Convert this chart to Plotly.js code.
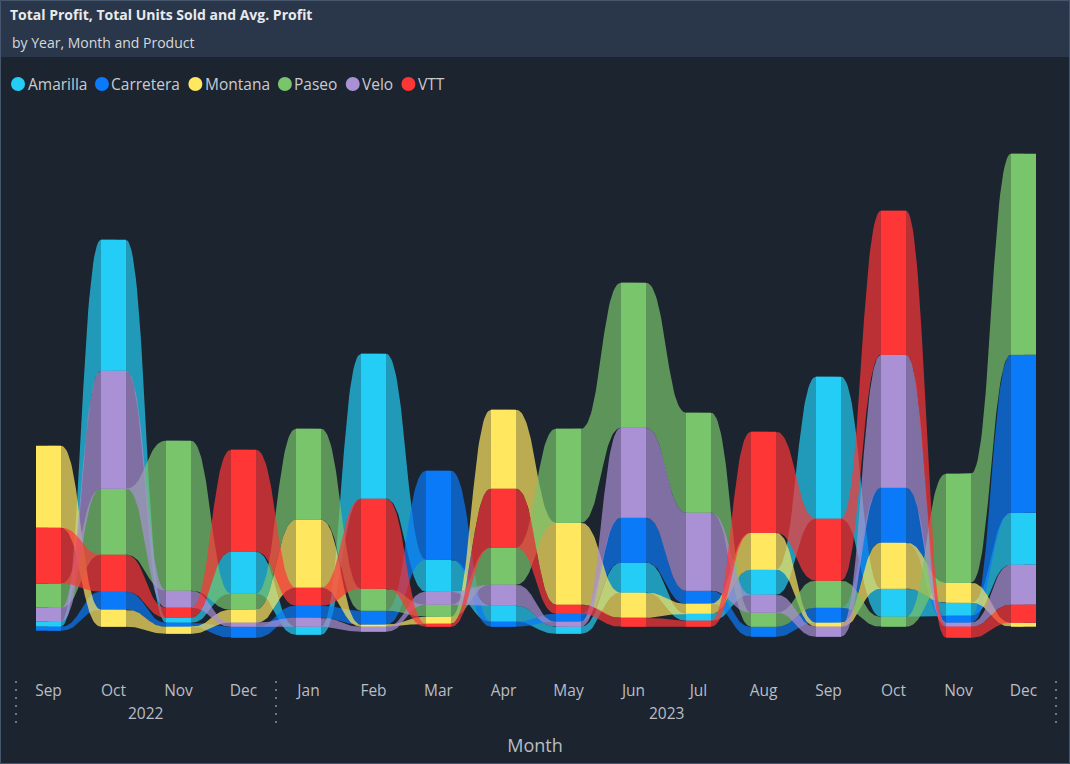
<!DOCTYPE html>
<html>
<head>
<meta charset="utf-8">
<script src="https://cdn.plot.ly/plotly-3.0.1.min.js"></script>
<style>
html,body{margin:0;padding:0;background:#1C2430;overflow:hidden;}
#chart{width:1070px;height:764px;}
</style>
</head>
<body>
<div id="chart"></div>
<script>
// ---------- DATA (Total Profit, relative units) ----------
const months = ['Sep','Oct','Nov','Dec','Jan','Feb','Mar','Apr','May','Jun','Jul','Aug','Sep','Oct','Nov','Dec'];
const monthYears = ['2022','2022','2022','2022','2023','2023','2023','2023','2023','2023','2023','2023','2023','2023','2023','2023'];
const products = ['Amarilla','Carretera','Montana','Paseo','Velo','VTT'];
const productColors = ['#24CDF5','#0A7AF8','#FFE760','#78C56C','#AA90D4','#FF3636'];

const amarilla  = [5, 131, 5, 42, -8, 145, 32, 16, -7, 30, 7, 25, 142, 28, 13, 52];
const carretera = [-4, 18, 4, -11, 12, 14, 89, 5, 8, 45, 13, -10, 15, 55, 7, 158];
const montana   = [82, 17, -7, 13, 68, 2, 7, 79, 82, 25, 10, 37, 4, 46, 20, 4];
const paseo     = [24, 66, 150, 16, 91, 22, 12, 37, 94, 145, 100, 14, 27, 10, 109, 201];
const velo      = [14, 118, 17, 4, 9, -5, 13, 21, 5, 90, 78, 18, -10, 133, 4, 40];
const vtt       = [56, 37, 10, 102, 18, 90, 3, 59, 9, 9, 6, 101, 62, 144, -11, 18];

const series = [amarilla, carretera, montana, paseo, velo, vtt];

// ---------- layout constants ----------
const FONT = '"Segoe UI", "Open Sans", sans-serif';
const W = 1070, H = 764;
const plotTop = 100, plotBottom = 676;
const zeroPx = 626.7;
const colStep = 65, firstCenterPx = 48.5;
const barW = 25 / colStep;          // bar width in category units
const hw = barW / 2;
const xr0 = -firstCenterPx / colStep;
const xRange = [xr0, xr0 + W / colStep];
const yRange = [-(plotBottom - zeroPx), zeroPx - plotTop];
const paperY = py => (plotBottom - py) / (plotBottom - plotTop);

function rgba(hex, a) {
  const n = parseInt(hex.slice(1), 16);
  return 'rgba(' + ((n >> 16) & 255) + ',' + ((n >> 8) & 255) + ',' + (n & 255) + ',' + a + ')';
}

// ---------- ribbon stacking: per column, sorted ascending, largest on top ----------
const nCol = months.length, nSer = products.length;
const lo = products.map(() => new Array(nCol));
const hi = products.map(() => new Array(nCol));
for (let j = 0; j < nCol; j++) {
  const items = products.map((p, k) => ({k: k, v: series[k][j]}));
  items.sort((a, b) => a.v - b.v);
  let cum = items.reduce((s, it) => s + Math.min(0, it.v), 0);
  items.forEach(it => {
    lo[it.k][j] = cum;
    cum += Math.abs(it.v);
    hi[it.k][j] = cum;
  });
}

function bezier(xa, ya, xb, yb, n, outX, outY) {
  const xm = (xa + xb) / 2;
  for (let i = 0; i <= n; i++) {
    const t = i / n, u = 1 - t;
    outX.push(u*u*u*xa + 3*u*u*t*xm + 3*u*t*t*xm + t*t*t*xb);
    outY.push(u*u*u*ya + 3*u*u*t*ya + 3*u*t*t*yb + t*t*t*yb);
  }
}

const traces = [];
const idx = months.map((m, j) => j);

// ribbons (main axes, drawn beneath)
products.forEach((p, k) => {
  const X = [], Y = [];
  for (let j = 0; j < nCol - 1; j++) {
    const xa = j + hw, xb = j + 1 - hw;
    X.push(j); Y.push(hi[k][j]);
    bezier(xa, hi[k][j], xb, hi[k][j+1], 40, X, Y);
    X.push(j + 1); Y.push(hi[k][j+1]);
    X.push(j + 1); Y.push(lo[k][j+1]);
    bezier(xb, lo[k][j+1], xa, lo[k][j], 40, X, Y);
    X.push(j); Y.push(lo[k][j]);
    X.push(null); Y.push(null);
  }
  traces.push({
    type: 'scatter', mode: 'lines', x: X, y: Y, fill: 'toself',
    fillcolor: rgba(productColors[k], 0.7), line: {width: 0, color: rgba(productColors[k], 0.7)},
    hoverinfo: 'skip', showlegend: false, name: p + ' ribbon', xaxis: 'x', yaxis: 'y'
  });
});

// bars (overlaid axes, drawn on top)
products.forEach((p, k) => {
  traces.push({
    type: 'bar', name: p, x: idx,
    y: series[k].map(v => Math.abs(v)),
    base: lo[k],
    width: barW,
    marker: {color: productColors[k], line: {width: 0}},
    customdata: series[k],
    hovertemplate: p + '<br>%{customdata}<extra></extra>',
    showlegend: false, xaxis: 'x2', yaxis: 'y2'
  });
});

// ---------- legend (circles + text), positioned from measured text widths ----------
const ctx = document.createElement('canvas').getContext('2d');
const LEG_SIZE = 15.5;
ctx.font = LEG_SIZE + 'px ' + FONT;
const shapes = [], annotations = [];
const legendY = paperY(84);
let cx = 18;
products.forEach((p, k) => {
  shapes.push({type: 'circle', xref: 'paper', yref: 'paper', xsizemode: 'pixel', ysizemode: 'pixel',
    xanchor: cx / W, yanchor: legendY, x0: -7, x1: 7, y0: -7, y1: 7,
    fillcolor: productColors[k], line: {width: 0}});
  const tx = cx + 8.5;
  annotations.push({text: p, xref: 'paper', yref: 'paper', x: tx / W, y: legendY,
    xanchor: 'left', yanchor: 'middle', showarrow: false,
    font: {family: FONT, size: LEG_SIZE, color: '#C8CCD1'}, borderpad: 0});
  cx = tx + ctx.measureText(p).width + 16;
});

// header band and frame
shapes.unshift({type: 'rect', xref: 'paper', yref: 'paper', x0: 0, x1: 1, y0: paperY(57), y1: paperY(0),
  fillcolor: '#2A374A', line: {width: 0}, layer: 'below'});
shapes.push({type: 'rect', xref: 'paper', yref: 'paper', x0: 0.5 / W, x1: 1 - 0.5 / W,
  y0: paperY(H - 0.5), y1: paperY(0.5), line: {width: 1, color: '#46566C'}, fillcolor: 'rgba(0,0,0,0)'});

// subtitle
annotations.push({text: 'by Year, Month and Product', xref: 'paper', yref: 'paper', x: 10 / W, y: paperY(42),
  xanchor: 'left', yanchor: 'middle', showarrow: false, font: {family: FONT, size: 14, color: '#D6D9DD'}});

// year group labels and dotted separators
const yearNames = [], yearFirst = [], yearLast = [];
monthYears.forEach((y, j) => {
  if (!yearNames.length || yearNames[yearNames.length - 1] !== y) {
    yearNames.push(y); yearFirst.push(j); yearLast.push(j);
  } else yearLast[yearLast.length - 1] = j;
});
yearNames.forEach((y, g) => {
  annotations.push({text: y, xref: 'x', yref: 'paper', x: (yearFirst[g] + yearLast[g]) / 2, y: paperY(713),
    xanchor: 'center', yanchor: 'middle', showarrow: false, font: {family: FONT, size: 15.5, color: '#B9BEC4'}});
});
const seps = yearFirst.map(f => f - 0.5).concat([nCol - 0.5]);
seps.forEach(sx => {
  shapes.push({type: 'line', xref: 'x', yref: 'paper', x0: sx, x1: sx, y0: paperY(681), y1: paperY(726),
    line: {color: '#8A9099', width: 1.5, dash: '2px,6px'}});
});

const layout = {
  width: W, height: H,
  margin: {l: 0, r: 0, t: plotTop, b: H - plotBottom, pad: 0},
  paper_bgcolor: '#1C2430', plot_bgcolor: 'rgba(0,0,0,0)',
  font: {family: FONT, color: '#C8CCD1'},
  title: {text: 'Total Profit, Total Units Sold and Avg. Profit', xref: 'container', yref: 'container',
    x: 10 / W, xanchor: 'left', y: 1 - 15 / H, yanchor: 'middle',
    font: {family: FONT, size: 14, color: '#E8EAED', weight: 'bold'}},
  showlegend: false,
  barmode: 'overlay',
  xaxis: {range: xRange, fixedrange: true, showgrid: false, zeroline: false, showline: false,
    tickmode: 'array', tickvals: idx, ticktext: months, ticks: '', ticklabelstandoff: 3,
    tickfont: {family: FONT, size: 15.5, color: '#B9BEC4'},
    title: {text: 'Month', font: {family: FONT, size: 18, color: '#B9BEC4'}, standoff: 39}},
  yaxis: {range: yRange, fixedrange: true, visible: false, showgrid: false, zeroline: false},
  xaxis2: {range: xRange, overlaying: 'x', fixedrange: true, visible: false, showgrid: false, zeroline: false},
  yaxis2: {range: yRange, overlaying: 'y', fixedrange: true, visible: false, showgrid: false, zeroline: false},
  shapes: shapes, annotations: annotations, hovermode: 'closest'
};

Plotly.newPlot('chart', traces, layout, {displayModeBar: false, responsive: false});
</script>
</body>
</html>
